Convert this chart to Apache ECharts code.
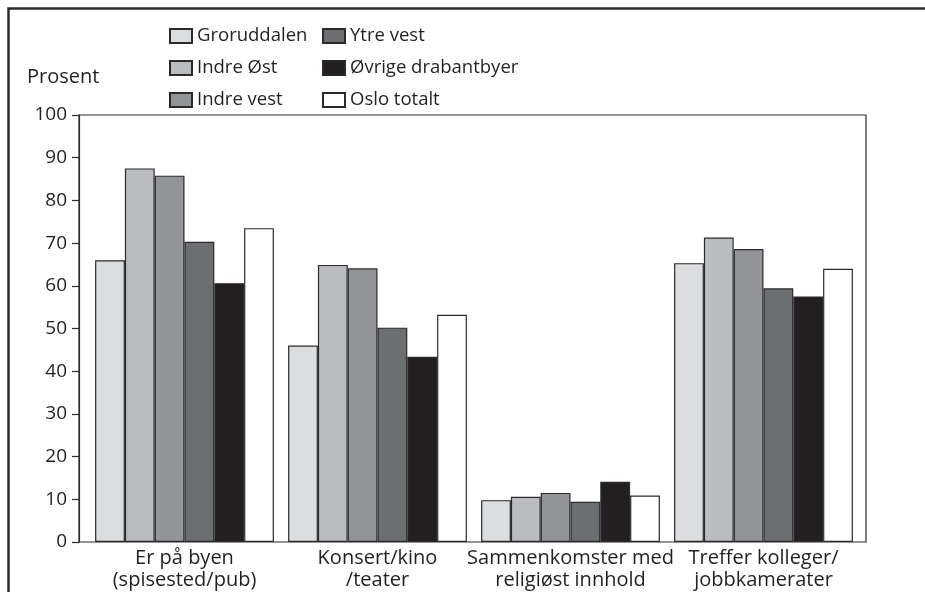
<!DOCTYPE html>
<html>
<head>
<meta charset="utf-8">
<script src="https://cdn.jsdelivr.net/npm/echarts@6/dist/echarts.min.js"></script>
<style>
html,body{margin:0;padding:0;background:#fff;}
#chart{width:925px;height:592px;}
</style>
</head>
<body>
<div id="chart"></div>
<script>
const categories = ['Er på byen\n(spisested/pub)', 'Konsert/kino\n/teater', 'Sammenkomster med\nreligiøst innhold', 'Treffer kolleger/\njobbkamerater'];
const seriesNames = ['Groruddalen', 'Indre Øst', 'Indre vest', 'Ytre vest', 'Øvrige drabantbyer', 'Oslo totalt'];
const groruddalen = [66.0, 46.0, 9.8, 65.3];
const indreOst = [87.5, 64.9, 10.6, 71.3];
const indreVest = [85.8, 64.1, 11.5, 68.6];
const ytreVest = [70.3, 50.2, 9.4, 59.4];
const ovrigeDrabantbyer = [60.6, 43.4, 14.1, 57.5];
const osloTotalt = [73.5, 53.2, 10.9, 64.0];
const yTicks = [0, 10, 20, 30, 40, 50, 60, 70, 80, 90, 100];

const values = [groruddalen, indreOst, indreVest, ytreVest, ovrigeDrabantbyer, osloTotalt];
const colors = ['#dcdddf', '#bbbcc0', '#939498', '#6d6e72', '#231f20', '#ffffff'];
const FONT = '"Open Sans", sans-serif';
const TXT = '#231f20';

const chart = echarts.init(document.getElementById('chart'), null, {renderer: 'canvas'});

const series = seriesNames.map((name, i) => ({
  name: name,
  type: 'bar',
  xAxisIndex: 1,
  yAxisIndex: 1,
  data: values[i],
  barWidth: 29.8,
  barGap: '0%',
  itemStyle: {color: colors[i], borderColor: '#2a2a2a', borderWidth: 1.2},
  emphasis: {disabled: true},
  animation: false
}));

const legendBase = {
  orient: 'vertical',
  top: 21,
  itemWidth: 22,
  itemHeight: 14,
  itemGap: 12,
  icon: 'rect',
  selectedMode: false,
  textStyle: {fontFamily: FONT, fontSize: 18.5, color: TXT, lineHeight: 20}
};

chart.setOption({
  animation: false,
  backgroundColor: '#fff',
  title: {
    text: 'Prosent',
    left: 22,
    top: 62,
    textStyle: {fontFamily: FONT, fontSize: 20, fontWeight: 'normal', color: TXT}
  },
  legend: [
    Object.assign({}, legendBase, {left: 164, data: seriesNames.slice(0, 3)}),
    Object.assign({}, legendBase, {left: 317, data: seriesNames.slice(3, 6)})
  ],
  grid: [
    {left: 79, top: 115, width: 787, height: 427, show: true, borderColor: '#2a2a2a', borderWidth: 1.2, backgroundColor: 'transparent'},
    {left: 88, top: 115, width: 772, height: 427}
  ],
  xAxis: [
    {gridIndex: 0, type: 'value', min: 0, max: 1, show: false},
    {
      gridIndex: 1, type: 'category', data: categories,
      axisLine: {show: false}, axisTick: {show: false},
      axisLabel: {fontFamily: FONT, fontSize: 20, color: TXT, lineHeight: 22, margin: 5, interval: 0}
    }
  ],
  yAxis: [
    {
      gridIndex: 0, type: 'value', min: yTicks[0], max: yTicks[yTicks.length - 1], interval: 10,
      axisLine: {show: true, lineStyle: {color: '#2a2a2a', width: 1.2}},
      axisTick: {show: true, length: 7, lineStyle: {color: '#2a2a2a', width: 1.2}},
      splitLine: {show: false},
      axisLabel: {fontFamily: FONT, fontSize: 19, color: TXT, margin: 12}
    },
    {gridIndex: 1, type: 'value', min: yTicks[0], max: yTicks[yTicks.length - 1], show: false, splitLine: {show: false}}
  ],
  graphic: [
    {
      type: 'rect', silent: true,
      shape: {x: 8.5, y: 8.5, width: 1200, height: 1200},
      style: {fill: 'none', stroke: '#2b2b2b', lineWidth: 2.5}
    }
  ],
  series: series
});
</script>
</body>
</html>
